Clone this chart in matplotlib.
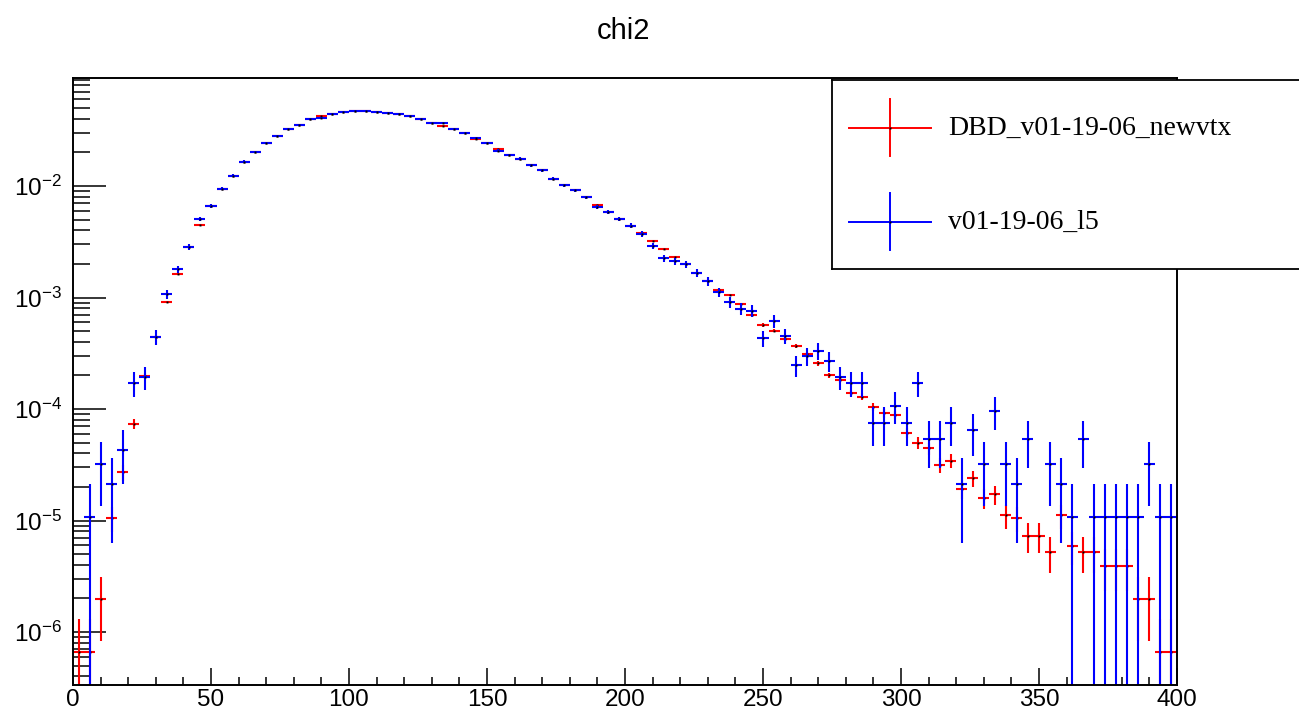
import numpy as np
import matplotlib

matplotlib.use("Agg")
import matplotlib.pyplot as plt
from matplotlib.ticker import MultipleLocator, LogLocator, NullFormatter

# Konfigurasi
OUT_FILE = "out.png"
TITLE = "chi2"
LABEL_RED = "DBD_v01-19-06_newvtx"
LABEL_BLUE = "v01-19-06_l5"

# 100 bin, lebar 4, dari 0 sampai 400
BIN_EDGES = np.linspace(0, 400, 101)

# isi histogram (ternormalisasi)
RED_VALUES = [
    6.6e-7, 6.6e-7, 1.98e-6, 1.06e-5, 2.70e-5, 7.38e-5, 1.98e-4, 4.45e-4, 9.12e-4, 1.63e-3,
    2.86e-3, 4.50e-3, 6.62e-3, 9.46e-3, 1.236e-2, 1.652e-2, 2.02e-2, 2.42e-2, 2.81e-2, 3.24e-2,
    3.56e-2, 3.95e-2, 4.25e-2, 4.40e-2, 4.58e-2, 4.71e-2, 4.68e-2, 4.61e-2, 4.49e-2, 4.40e-2,
    4.22e-2, 3.99e-2, 3.67e-2, 3.47e-2, 3.24e-2, 2.97e-2, 2.66e-2, 2.42e-2, 2.16e-2, 1.91e-2,
    1.76e-2, 1.535e-2, 1.385e-2, 1.167e-2, 1.014e-2, 9.15e-3, 7.92e-3, 6.76e-3, 5.81e-3, 5.06e-3,
    4.41e-3, 3.81e-3, 3.21e-3, 2.72e-3, 2.31e-3, 1.99e-3, 1.66e-3, 1.40e-3, 1.175e-3, 1.052e-3,
    8.75e-4, 7.02e-4, 5.67e-4, 5.04e-4, 4.25e-4, 3.67e-4, 3.11e-4, 2.57e-4, 2.00e-4, 1.82e-4,
    1.40e-4, 1.29e-4, 1.05e-4, 9.14e-5, 8.89e-5, 6.13e-5, 4.99e-5, 4.44e-5, 3.15e-5, 3.44e-5,
    1.93e-5, 2.39e-5, 1.58e-5, 1.72e-5, 1.12e-5, 1.06e-5, 7.26e-6, 7.26e-6, 5.25e-6, 1.12e-5,
    5.94e-6, 5.25e-6, 5.25e-6, 3.94e-6, 3.94e-6, 3.94e-6, 1.98e-6, 1.98e-6, 6.6e-7, 6.6e-7,
]

BLUE_VALUES = [
    np.nan, 1.07e-5, 3.21e-5, 2.14e-5, 4.28e-5, 1.72e-4, 1.93e-4, 4.40e-4, 1.07e-3, 1.79e-3,
    2.86e-3, 5.09e-3, 6.62e-3, 9.46e-3, 1.236e-2, 1.652e-2, 2.02e-2, 2.42e-2, 2.81e-2, 3.24e-2,
    3.56e-2, 3.95e-2, 4.07e-2, 4.40e-2, 4.58e-2, 4.71e-2, 4.68e-2, 4.61e-2, 4.49e-2, 4.40e-2,
    4.22e-2, 3.99e-2, 3.67e-2, 3.67e-2, 3.24e-2, 2.97e-2, 2.67e-2, 2.42e-2, 2.08e-2, 1.90e-2,
    1.76e-2, 1.535e-2, 1.385e-2, 1.167e-2, 1.014e-2, 9.15e-3, 7.92e-3, 6.44e-3, 5.81e-3, 5.06e-3,
    4.41e-3, 3.71e-3, 2.88e-3, 2.25e-3, 2.12e-3, 1.99e-3, 1.66e-3, 1.40e-3, 1.12e-3, 9.12e-4,
    7.94e-4, 7.62e-4, 4.31e-4, 6.12e-4, 4.52e-4, 2.47e-4, 2.99e-4, 3.33e-4, 2.68e-4, 1.94e-4,
    1.72e-4, 1.72e-4, 7.53e-5, 7.53e-5, 1.07e-4, 7.53e-5, 1.72e-4, 5.35e-5, 5.35e-5, 7.53e-5,
    2.14e-5, 6.44e-5, 3.21e-5, 9.63e-5, 3.21e-5, 2.14e-5, 5.35e-5, np.nan, 3.21e-5, 2.14e-5,
    1.07e-5, 5.35e-5, 1.07e-5, 1.07e-5, 1.07e-5, 1.07e-5, 1.07e-5, 3.21e-5, 1.07e-5, 1.07e-5,
]

# bobot satu entri (isi bin terkecil yang terlihat), untuk error Poisson
RED_UNIT = 6.6e-7
BLUE_UNIT = 1.07e-5

plt.rcParams["font.family"] = ["Liberation Sans", "DejaVu Sans"]
plt.rcParams["mathtext.fontset"] = "custom"
plt.rcParams["mathtext.rm"] = "Liberation Sans"
plt.rcParams["mathtext.it"] = "Liberation Sans:italic"
plt.rcParams["mathtext.bf"] = "Liberation Sans:bold"


def draw_hist(ax, values, unit, color):
    """Gambar histogram gaya ROOT: error bar silang + titik hitam kecil"""
    centers = 0.5 * (BIN_EDGES[:-1] + BIN_EDGES[1:])
    half_width = 0.5 * np.diff(BIN_EDGES)
    values = np.asarray(values, dtype=float)
    errors = np.sqrt(values * unit)
    ax.errorbar(
        centers,
        values,
        xerr=half_width,
        yerr=errors,
        fmt="none",
        ecolor=color,
        elinewidth=1.5,
        capsize=0,
    )
    ax.plot(centers, values, "s", color="black", markersize=1.4, markeredgewidth=0)


def draw_legend(fig):
    """Kotak legenda manual seperti TLegend"""
    lax = fig.add_axes([832 / 1299, 1 - 269 / 714, 468 / 1299, 189 / 714])
    lax.set_xlim(832, 1300)
    lax.set_ylim(269, 80)
    lax.set_xticks([])
    lax.set_yticks([])
    for sp in lax.spines.values():
        sp.set_linewidth(1.3)
    entries = [(LABEL_RED, "red", 128), (LABEL_BLUE, "blue", 222)]
    for label, color, yc in entries:
        lax.plot([849, 931], [yc, yc], color=color, lw=1.4)
        lax.plot([890, 890], [yc - 29, yc + 28], color=color, lw=1.4)
        lax.plot([890], [yc], "s", color="black", markersize=1.4, markeredgewidth=0)
        lax.text(
            948,
            yc,
            label,
            fontsize=20,
            family=["Liberation Serif", "DejaVu Serif"],
            va="center",
            ha="left",
        )


def main():
    fig = plt.figure(figsize=(12.99, 7.14), dpi=100)
    ax = fig.add_axes([73 / 1299, 1 - 685 / 714, 1104 / 1299, 607 / 714])

    draw_hist(ax, RED_VALUES, RED_UNIT, "red")
    draw_hist(ax, BLUE_VALUES, BLUE_UNIT, "blue")

    ax.set_xlim(0, 400)
    ax.set_yscale("log")
    ax.set_ylim(3.35e-7, 0.093)

    # sumbu x
    ax.xaxis.set_major_locator(MultipleLocator(50))
    ax.xaxis.set_minor_locator(MultipleLocator(10))
    # sumbu y
    ax.yaxis.set_major_locator(LogLocator(base=10, numticks=20))
    ax.yaxis.set_minor_locator(LogLocator(base=10, subs=np.arange(2, 10), numticks=20))
    ax.yaxis.set_minor_formatter(NullFormatter())

    ax.tick_params(axis="both", which="both", direction="in", top=False, right=False,
                   labelsize=17.5, width=1.1, color="black")
    ax.tick_params(axis="x", which="major", length=12.5, pad=3)
    ax.tick_params(axis="x", which="minor", length=6)
    ax.tick_params(axis="y", which="major", length=24, pad=8)
    ax.tick_params(axis="y", which="minor", length=12)

    for sp in ax.spines.values():
        sp.set_linewidth(1.4)

    fig.text(624 / 1299, 1 - 31 / 714, TITLE, fontsize=21, ha="center", va="center")

    draw_legend(fig)

    fig.savefig(OUT_FILE, dpi=100)
    plt.close(fig)


if __name__ == "__main__":
    main()
